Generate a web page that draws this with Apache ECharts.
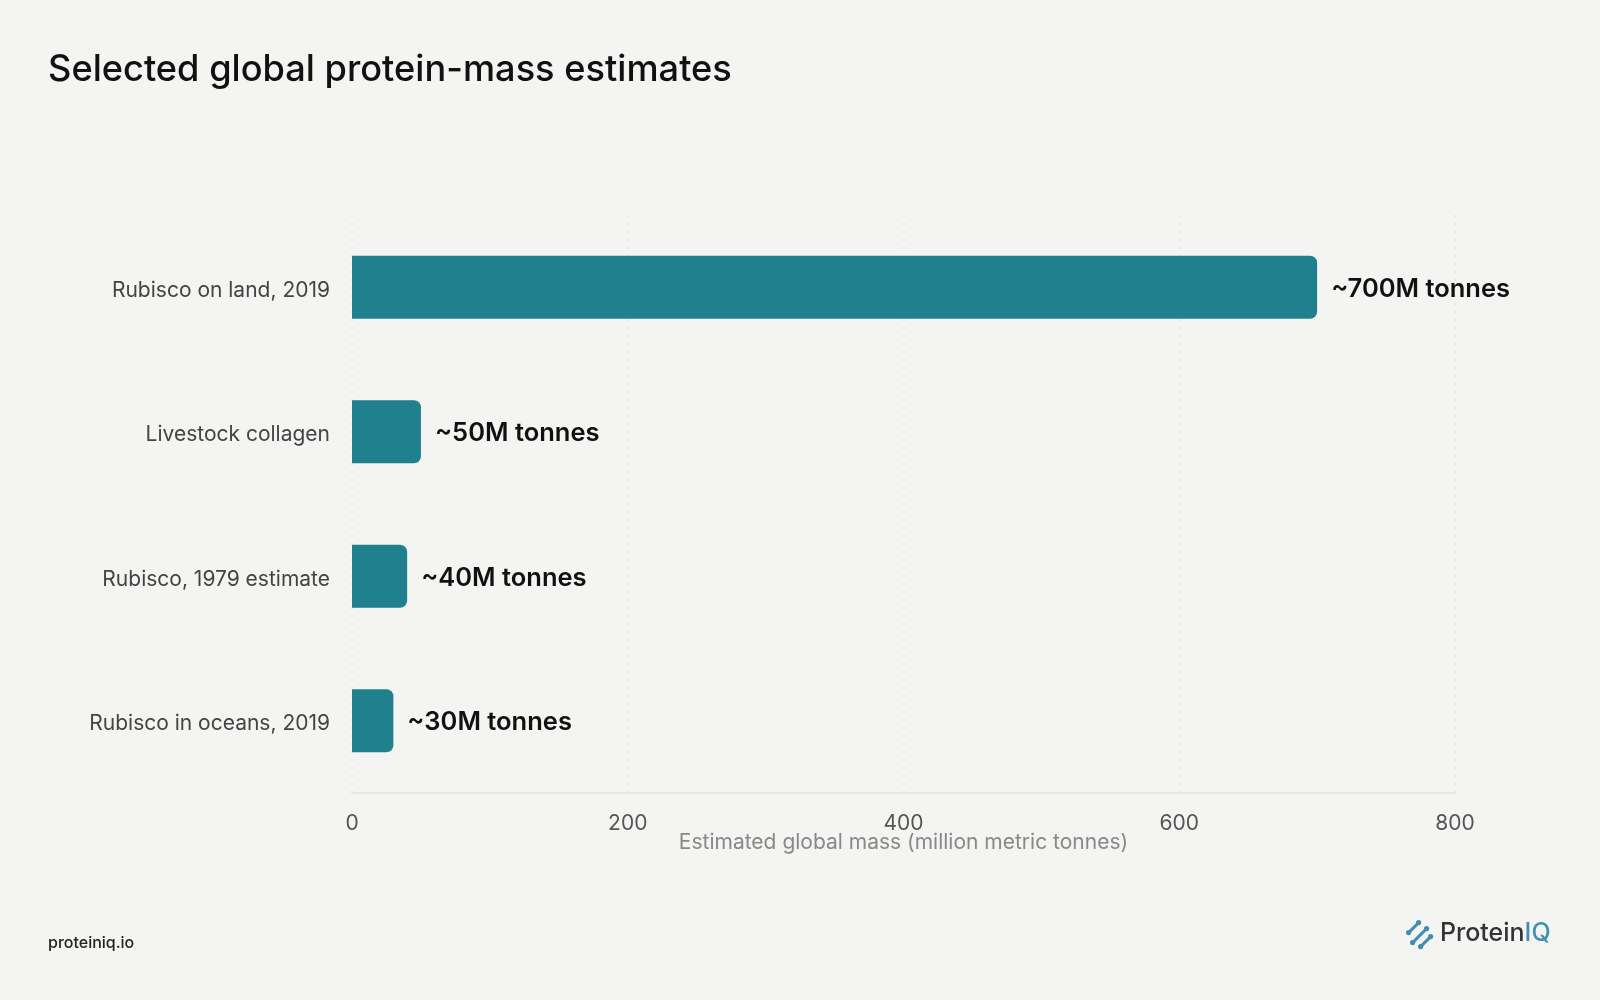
<!DOCTYPE html>
<html>
<head>
<meta charset="utf-8">
<script src="https://cdn.jsdelivr.net/npm/echarts@6/dist/echarts.min.js"></script>
<style>
html,body{margin:0;padding:0;background:#f4f4f2;}
#c{width:1600px;height:1000px;}
</style>
</head>
<body>
<div id="c"></div>
<script>
const categories = ["Rubisco on land, 2019", "Livestock collagen", "Rubisco, 1979 estimate", "Rubisco in oceans, 2019"];
const values = [700, 50, 40, 30];
const valueLabels = ["~700M tonnes", "~50M tonnes", "~40M tonnes", "~30M tonnes"];
const xTicks = [0, 200, 400, 600, 800];

const chart = echarts.init(document.getElementById('c'));
const FONT = 'Inter, "Noto Sans", sans-serif';
chart.setOption({
  backgroundColor: '#f4f4f2',
  animation: false,
  textStyle: {fontFamily: FONT},
  title: {
    text: 'Selected global protein-mass estimates',
    left: 43, top: 47,
    textStyle: {fontFamily: FONT, fontSize: 36.2, fontWeight: 500, color: '#111', letterSpacing: -0.3}
  },
  grid: {left: 352, right: 145, top: 215, bottom: 207, containLabel: false},
  xAxis: {
    type: 'value', min: 0, max: 800, interval: 200,
    name: 'Estimated global mass (million metric tonnes)',
    nameLocation: 'middle', nameGap: 39, nameMoveOverlap: false,
    nameTextStyle: {fontSize: 21, color: '#888'},
    axisLine: {show: true, lineStyle: {color: '#e2e2e0', width: 1.5}},
    axisTick: {show: false},
    axisLabel: {fontSize: 21, color: '#555', margin: 20,
      formatter: v => xTicks.includes(v) ? String(v) : ''},
    splitLine: {show: true, lineStyle: {color: '#e4e4e2', type: [2, 6], width: 1.5}}
  },
  yAxis: {
    type: 'category', inverse: true, data: categories,
    axisLine: {show: false}, axisTick: {show: false},
    axisLabel: {margin: 22,
      formatter: v => '{a|' + v + '}',
      rich: {a: {fontFamily: FONT, fontSize: 21, color: '#444', padding: [6, 0, 0, 0]}}}
  },
  series: [{
    type: 'bar',
    data: values.map((v, i) => ({value: v, label: {formatter: valueLabels[i]}})),
    barWidth: 63,
    itemStyle: {color: '#21808d', borderRadius: [0, 7, 7, 0]},
    label: {show: true, position: 'right', distance: 14, offset: [0, 2],
      fontSize: 25.5, fontWeight: 600, color: '#111'}
  }],
  graphic: [
    {type: 'text', left: 48, top: 935,
     style: {text: 'proteiniq.io', font: '500 16px ' + FONT, fill: '#222'}},
    {type: 'group', left: 1406, top: 920, children: [
      {type: 'line', shape: {x1: 2, y1: 12, x2: 12, y2: 2}, style: {stroke: '#3f8fae', lineWidth: 3, lineCap: 'round'}},
      {type: 'line', shape: {x1: 6, y1: 22, x2: 20, y2: 8}, style: {stroke: '#3f8fae', lineWidth: 3, lineCap: 'round'}},
      {type: 'line', shape: {x1: 14, y1: 26, x2: 24, y2: 16}, style: {stroke: '#3f8fae', lineWidth: 3, lineCap: 'round'}},
      {type: 'circle', shape: {cx: 2, cy: 12, r: 2.6}, style: {fill: '#3f8fae'}},
      {type: 'circle', shape: {cx: 12, cy: 2, r: 2.6}, style: {fill: '#3f8fae'}},
      {type: 'circle', shape: {cx: 6, cy: 22, r: 2.6}, style: {fill: '#3f8fae'}},
      {type: 'circle', shape: {cx: 20, cy: 8, r: 2.6}, style: {fill: '#3f8fae'}},
      {type: 'circle', shape: {cx: 14, cy: 26, r: 2.6}, style: {fill: '#3f8fae'}},
      {type: 'circle', shape: {cx: 24, cy: 16, r: 2.6}, style: {fill: '#3f8fae'}}
    ]},
    {type: 'text', left: 1440, top: 921,
     style: {rich: {a: {fontFamily: FONT, fontSize: 25, fontWeight: 500, fill: '#333'}, b: {fontFamily: FONT, fontSize: 25, fontWeight: 500, fill: '#3f8fae'}},
             text: '{a|Protein}{b|IQ}'}}
  ]
});
</script>
</body>
</html>
